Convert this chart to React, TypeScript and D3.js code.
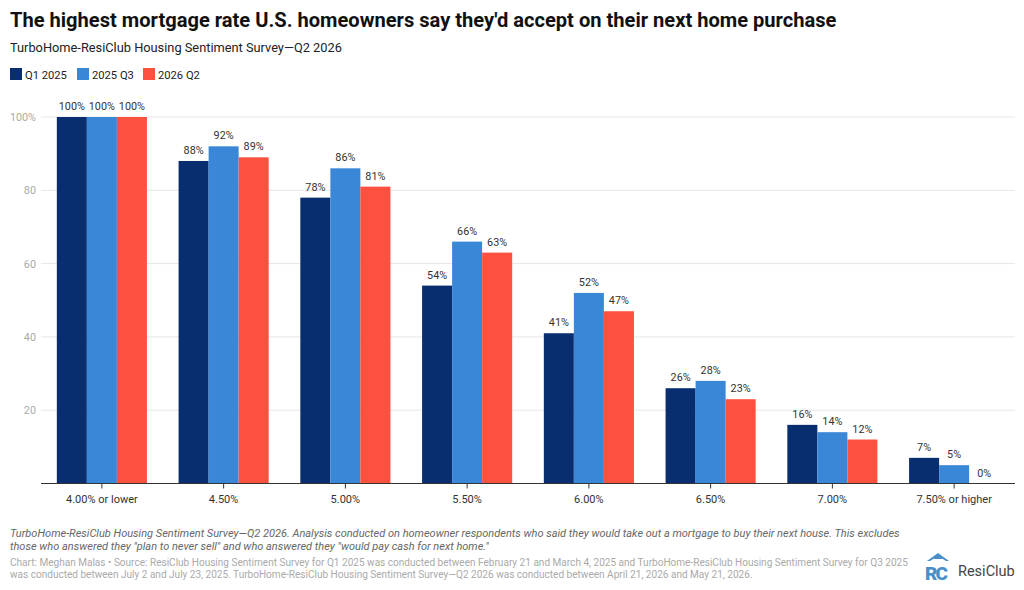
import React from "react";
import * as d3 from "d3";

const categories = ["4.00% or lower", "4.50%", "5.00%", "5.50%", "6.00%", "6.50%", "7.00%", "7.50% or higher"];
const seriesNames = ["Q1 2025", "2025 Q3", "2026 Q2"];
const q1_2025 = [100, 88, 78, 54, 41, 26, 16, 7];
const q3_2025 = [100, 92, 86, 66, 52, 28, 14, 5];
const q2_2026 = [100, 89, 81, 63, 47, 23, 12, 0];
const yTicks = [20, 40, 60, 80, 100];
const colors = ["#082e6f", "#3a87d8", "#fd5140"];

const W = 1024;
const H = 590;
const FONT = "Roboto, 'Noto Sans', sans-serif";

export default function App() {
  const series = [q1_2025, q3_2025, q2_2026];
  const x0 = d3.scaleBand<string>().domain(categories).range([41, 1015]).paddingInner(0.26).paddingOuter(0.13);
  const x1 = d3.scaleBand<string>().domain(seriesNames).range([0, x0.bandwidth()]);
  const y = d3.scaleLinear().domain([0, 100]).range([483.5, 117]);

  return (
    <div style={{ position: "fixed", left: 0, top: 0, width: W, height: H, background: "#fff" }}>
      <svg width={W} height={H} style={{ display: "block", fontFamily: FONT }}>
        <rect width={W} height={H} fill="#fff" />
        <text x={10} y={27} fontSize={20.1} fontWeight={700} fill="#111">
          The highest mortgage rate U.S. homeowners say they'd accept on their next home purchase
        </text>
        <text x={10} y={52} fontSize={12.8} fill="#222">
          TurboHome-ResiClub Housing Sentiment Survey—Q2 2026
        </text>
        {seriesNames.map((s, i) => {
          const lx = [10, 77, 143][i];
          return (
            <g key={s}>
              <rect x={lx} y={68} width={12} height={12} fill={colors[i]} />
              <text x={lx + 15} y={78.5} fontSize={11.2} fill="#222">{s}</text>
            </g>
          );
        })}
        {yTicks.map((t) => (
          <g key={t}>
            <line x1={41} x2={1015} y1={y(t)} y2={y(t)} stroke="#e6e6e6" strokeWidth={1} />
            <text x={36} y={y(t) + 4} fontSize={10.8} fill="#aaa" textAnchor="end">
              {t === 100 ? "100%" : t}
            </text>
          </g>
        ))}
        {categories.map((c, ci) => (
          <g key={c} transform={`translate(${x0(c)},0)`}>
            {series.map((vals, si) => {
              const v = vals[ci];
              const bx = x1(seriesNames[si])!;
              return (
                <g key={si}>
                  <rect x={bx} y={y(v)} width={x1.bandwidth()} height={y(0) - y(v)} fill={colors[si]} />
                  <text x={bx + x1.bandwidth() / 2} y={y(v) - 7} fontSize={10.8} fill="#333" textAnchor="middle">
                    {v}%
                  </text>
                </g>
              );
            })}
          </g>
        ))}
        <line x1={41} x2={1015} y1={y(0)} y2={y(0)} stroke="#333" strokeWidth={1} />
        {categories.map((c) => {
          const cx = x0(c)! + x0.bandwidth() / 2;
          return (
            <g key={c}>
              <line x1={cx} x2={cx} y1={y(0)} y2={y(0) + 5} stroke="#333" />
              <text x={cx} y={503} fontSize={11} fill="#333" textAnchor="middle">{c}</text>
            </g>
          );
        })}
        <text x={10} y={537} fontSize={11} fontStyle="italic" fill="#666">
          TurboHome-ResiClub Housing Sentiment Survey—Q2 2026. Analysis conducted on homeowner respondents who said they would take out a mortgage to buy their next house. This excludes
        </text>
        <text x={10} y={550} fontSize={11} fontStyle="italic" fill="#666">
          those who answered they "plan to never sell" and who answered they "would pay cash for next home."
        </text>
        <text x={10} y={566} fontSize={10.05} fill="#aaa">
          Chart: Meghan Malas • Source: ResiClub Housing Sentiment Survey for Q1 2025 was conducted between February 21 and March 4, 2025 and TurboHome-ResiClub Housing Sentiment Survey for Q3 2025
        </text>
        <text x={10} y={578} fontSize={10.05} fill="#aaa">
          was conducted between July 2 and July 23, 2025. TurboHome-ResiClub Housing Sentiment Survey—Q2 2026 was conducted between April 21, 2026 and May 21, 2026.
        </text>
        <g>
          <path d="M927,561 L938,553 L949,561 L946,561 L938,556 L930,561 Z" fill="#4a8fc9" />
          <rect x={934} y={556} width={8} height={3} fill="#4a8fc9" />
          <text x={925} y={580} fontSize={19} fontWeight={900} fill="#4a8fc9" letterSpacing={-2}>RC</text>
          <text x={958} y={576} fontSize={14.5} fill="#444">ResiClub</text>
        </g>
      </svg>
    </div>
  );
}
